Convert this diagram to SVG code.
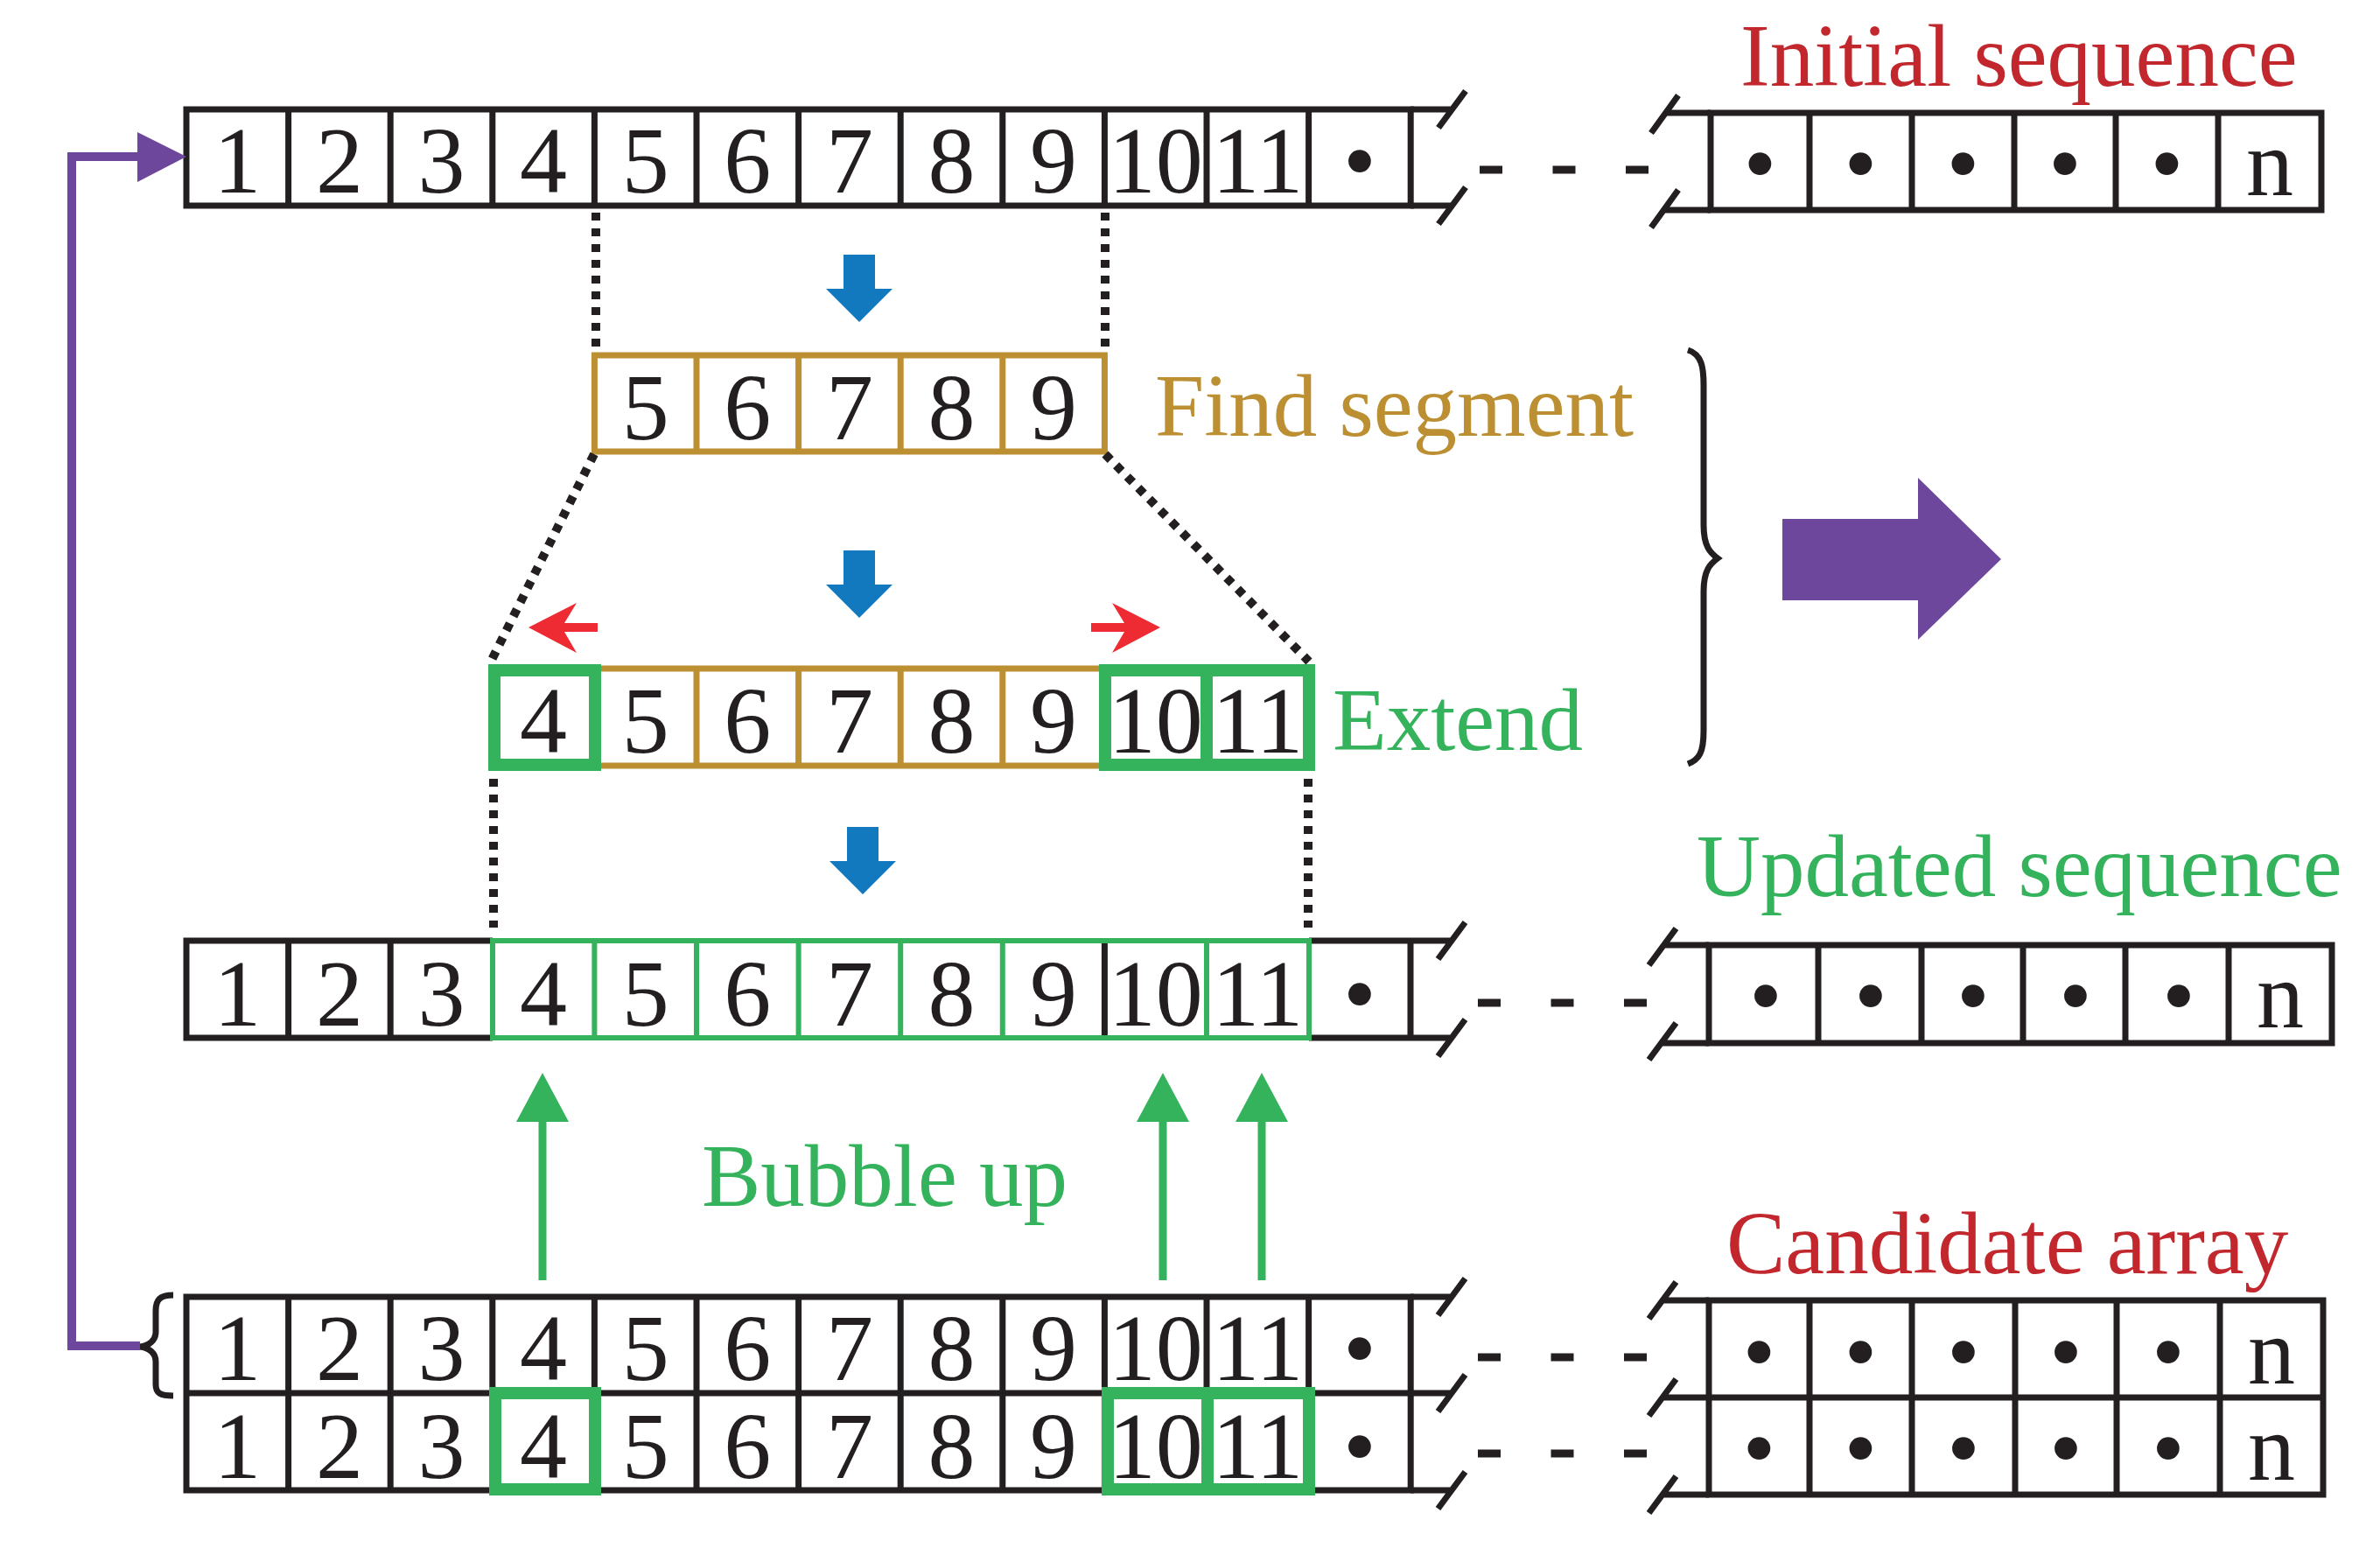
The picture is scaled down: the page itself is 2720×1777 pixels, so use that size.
<svg xmlns="http://www.w3.org/2000/svg" width="2720" height="1777" viewBox="0 0 2720 1777">
<style>
.bx{fill:#fff;stroke:#231f20;stroke-width:7}
.ln{stroke:#231f20;stroke-width:7;fill:none}
.gd{stroke:#bc8f33;stroke-width:7;fill:none}
.gn{stroke:#35b35c;stroke-width:6;fill:none}
.gb{stroke:#35b35c;stroke-width:14;fill:none}
.dg{font-family:"Liberation Serif","Times New Roman",serif;font-size:108px;fill:#231f20;text-anchor:middle}
.lb{font-family:"Liberation Serif","Times New Roman",serif;font-size:101px}
.dt{stroke:#231f20;stroke-width:10;stroke-dasharray:9 9;fill:none}
.dsh{stroke:#231f20;stroke-width:9;stroke-dasharray:26 57.5;fill:none}
</style>
<defs>
<polygon id="blue" points="964,0 1000,0 1000,39 1020,39 982,77 944,39 964,39" fill="#1279bf"/>
</defs>

<g id="initial-sequence">
<rect class="bx" x="213" y="125" width="1399.2" height="110"/>
<path class="ln" d="M329.6 125V235M446.2 125V235M562.8 125V235M679.4 125V235M796 125V235M912.6 125V235M1029.2 125V235M1145.8 125V235M1262.4 125V235M1379 125V235M1495.6 125V235M1612 125H1660M1612 235H1660M1675 104L1644 146M1675 214L1644 256M1918 109L1887 152M1918 217L1887 260M1903 129H1955M1903 240H1955"/>
<path class="dsh" d="M1691 194H1884"/>
<rect class="bx" x="1955" y="129" width="698" height="111"/>
<path class="ln" d="M2068 129V240M2185 129V240M2302 129V240M2418 129V240M2535 129V240"/>
<g class="dg">
<text x="271.3" y="220">1</text><text x="387.9" y="220">2</text><text x="504.5" y="220">3</text><text x="621.1" y="220">4</text><text x="737.7" y="220">5</text><text x="854.3" y="220">6</text><text x="970.9" y="220">7</text><text x="1087.5" y="220">8</text><text x="1204.1" y="220">9</text><text x="1320.7" y="220">10</text><text x="1437.3" y="220">11</text><text x="1553.9" y="220">•</text>
<text x="2011.5" y="223">•</text><text x="2126.5" y="223">•</text><text x="2243.5" y="223">•</text><text x="2360" y="223">•</text><text x="2476.5" y="223">•</text><text x="2594" y="223">n</text>
</g>
<text class="lb" x="1989" y="98" fill="#c1272d">Initial sequence</text>
</g>

<g id="find-segment">
<rect x="679.4" y="406" width="583" height="110" fill="#fff" class="gd"/>
<path class="gd" d="M796 406V516M912.6 406V516M1029.2 406V516M1145.8 406V516"/>
<g class="dg">
<text x="737.7" y="502">5</text><text x="854.3" y="502">6</text><text x="970.9" y="502">7</text><text x="1087.5" y="502">8</text><text x="1204.1" y="502">9</text>
</g>
<text class="lb" x="1320" y="498" fill="#bc8f33">Find segment</text>
</g>

<g id="extend">
<path class="gd" d="M563 764H1496M563 875H1496M796 764V875M912.6 764V875M1029.2 764V875M1145.8 764V875"/>
<rect class="gb" x="565" y="766" width="115" height="108"/>
<rect class="gb" x="1263" y="766" width="233" height="108"/>
<path class="gb" d="M1379 766V874"/>
<g class="dg">
<text x="621.1" y="860">4</text><text x="737.7" y="860">5</text><text x="854.3" y="860">6</text><text x="970.9" y="860">7</text><text x="1087.5" y="860">8</text><text x="1204.1" y="860">9</text><text x="1320.7" y="860">10</text><text x="1437.3" y="860">11</text>
</g>
<text class="lb" x="1523" y="857" fill="#35b35c">Extend</text>
</g>

<g id="updated-sequence">
<rect x="213" y="1075" width="1399" height="111" fill="#fff"/>
<path class="ln" d="M213 1075H563M213 1186H563M213 1071.5V1189.5M329.6 1075V1186M446.2 1075V1186M1262.4 1075V1186M1496 1075H1660M1496 1186H1660M1612 1075V1186M1674.5 1054L1643.5 1096M1674.5 1165L1643.5 1207M1915.5 1061L1884.5 1103M1915.5 1169L1884.5 1211M1900 1080H1953M1900 1192H1953"/>
<rect class="gn" x="563" y="1075" width="933" height="111"/>
<path class="gn" d="M679.4 1075V1186M796 1075V1186M912.6 1075V1186M1029.2 1075V1186M1145.8 1075V1186M1379 1075V1186"/>
<path class="dsh" d="M1689 1146H1884"/>
<rect class="bx" x="1953" y="1080" width="712" height="112"/>
<path class="ln" d="M2078 1080V1192M2196 1080V1192M2312 1080V1192M2429 1080V1192M2547 1080V1192"/>
<g class="dg">
<text x="271.3" y="1172">1</text><text x="387.9" y="1172">2</text><text x="504.5" y="1172">3</text><text x="621.1" y="1172">4</text><text x="737.7" y="1172">5</text><text x="854.3" y="1172">6</text><text x="970.9" y="1172">7</text><text x="1087.5" y="1172">8</text><text x="1204.1" y="1172">9</text><text x="1320.7" y="1172">10</text><text x="1437.3" y="1172">11</text><text x="1553.9" y="1172">•</text>
<text x="2018" y="1174">•</text><text x="2138" y="1174">•</text><text x="2255" y="1174">•</text><text x="2372" y="1174">•</text><text x="2490" y="1174">•</text><text x="2606" y="1174">n</text>
</g>
<text class="lb" x="1939" y="1024" fill="#35b35c">Updated sequence</text>
</g>

<g id="candidate-array">
<rect class="bx" x="213" y="1482" width="1399.2" height="221"/>
<path class="ln" d="M213 1592H1660M329.6 1482V1703M446.2 1482V1703M562.8 1482V1703M679.4 1482V1703M796 1482V1703M912.6 1482V1703M1029.2 1482V1703M1145.8 1482V1703M1262.4 1482V1703M1379 1482V1703M1495.6 1482V1703M1612 1482H1660M1612 1703H1660M1674.5 1461L1643.5 1503M1674.5 1571L1643.5 1613M1674.5 1682L1643.5 1724M1915.5 1465L1884.5 1507M1915.5 1576L1884.5 1618M1915.5 1687L1884.5 1729M1900 1486H1953M1900 1597H1953M1900 1708H1953"/>
<path class="dsh" d="M1689 1551H1884M1689 1661H1884"/>
<rect class="bx" x="1953" y="1486" width="702" height="222"/>
<path class="ln" d="M1953 1597H2655M2068 1486V1708M2185 1486V1708M2303 1486V1708M2419 1486V1708M2537 1486V1708"/>
<rect class="gb" x="566" y="1592" width="114" height="110"/>
<rect class="gb" x="1266" y="1592" width="230" height="110"/>
<path class="gb" d="M1380 1592V1702"/>
<path class="ln" d="M198 1480C183 1480 178 1485 178 1498V1522C178 1532 170 1538 160 1539C170 1540 178 1546 178 1556V1582C178 1592 183 1595 198 1595"/>
<g class="dg">
<text x="271.3" y="1577">1</text><text x="387.9" y="1577">2</text><text x="504.5" y="1577">3</text><text x="621.1" y="1577">4</text><text x="737.7" y="1577">5</text><text x="854.3" y="1577">6</text><text x="970.9" y="1577">7</text><text x="1087.5" y="1577">8</text><text x="1204.1" y="1577">9</text><text x="1320.7" y="1577">10</text><text x="1437.3" y="1577">11</text><text x="1553.9" y="1577">•</text>
<text x="271.3" y="1689">1</text><text x="387.9" y="1689">2</text><text x="504.5" y="1689">3</text><text x="621.1" y="1689">4</text><text x="737.7" y="1689">5</text><text x="854.3" y="1689">6</text><text x="970.9" y="1689">7</text><text x="1087.5" y="1689">8</text><text x="1204.1" y="1689">9</text><text x="1320.7" y="1689">10</text><text x="1437.3" y="1689">11</text><text x="1553.9" y="1689">•</text>
<text x="2010.5" y="1581">•</text><text x="2126.5" y="1581">•</text><text x="2244" y="1581">•</text><text x="2361" y="1581">•</text><text x="2478" y="1581">•</text><text x="2596" y="1581">n</text>
<text x="2010.5" y="1691">•</text><text x="2126.5" y="1691">•</text><text x="2244" y="1691">•</text><text x="2361" y="1691">•</text><text x="2478" y="1691">•</text><text x="2596" y="1691">n</text>
</g>
<text class="lb" x="1973" y="1455" fill="#c1272d">Candidate array</text>
</g>

<g id="bubble-up-label">
<text class="lb" x="802" y="1378" fill="#35b35c">Bubble up</text>
</g>

<g id="result">
<path class="ln" d="M1929 400C1945 405 1947 420 1947 440V600C1947 625 1955 632 1963 638C1955 644 1947 651 1947 676V835C1947 860 1942 868 1929 873"/>
<polygon points="2037,593 2192,593 2192,546 2287,639 2192,731 2192,686 2037,686" fill="#6c479b"/>
</g>

<g id="connectors">
<path class="dt" d="M681 243V403M1263 243V403"/>
<path class="dt" d="M679 519L560 758M1263 519L1496 756"/>
<path class="dt" d="M564 890V1060M1495 890V1060"/>
<use href="#blue" y="291"/>
<use href="#blue" y="629"/>
<use href="#blue" x="4" y="945"/>
<polygon points="604,717 659,689 645,712 683,712 683,722 645,722 659,746" fill="#ee2a33"/>
<polygon points="1326,717 1271,689 1285,712 1247,712 1247,722 1285,722 1271,746" fill="#ee2a33"/>
<path d="M620 1463V1280M1329 1463V1280M1442 1463V1280" stroke="#35b35c" stroke-width="9" fill="none"/>
<polygon points="590,1282 650,1282 620,1226" fill="#35b35c"/>
<polygon points="1299,1282 1359,1282 1329,1226" fill="#35b35c"/>
<polygon points="1412,1282 1472,1282 1442,1226" fill="#35b35c"/>
<path d="M160 1538H82V179H160" stroke="#6c479b" stroke-width="10" fill="none"/>
<polygon points="157,151 213,179 157,208" fill="#6c479b"/>
</g>
</svg>
